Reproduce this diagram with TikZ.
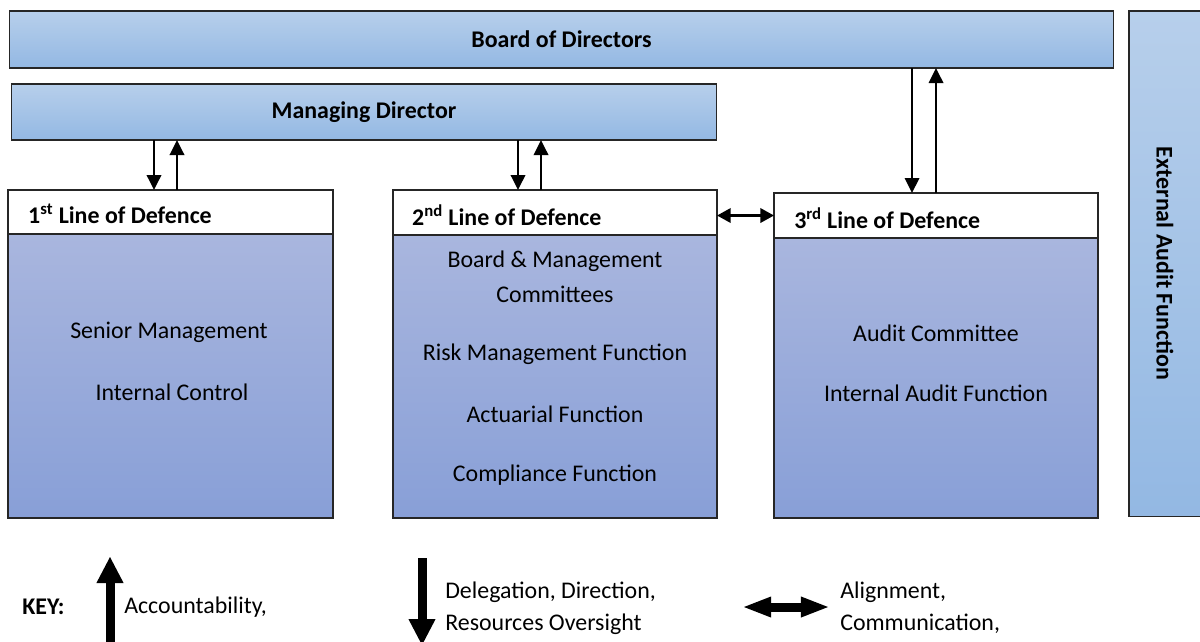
\documentclass[tikz,border=0pt]{standalone}
\usepackage{fontspec}
\setmainfont{Carlito}
\usetikzlibrary{arrows.meta,calc}
\definecolor{bdtop}{RGB}{183,207,235}
\definecolor{bdbot}{RGB}{147,184,227}
\definecolor{bytop}{RGB}{169,182,222}
\definecolor{bybot}{RGB}{136,159,215}
\tikzset{
  bluebox/.style={draw=black!85, line width=0.8pt, top color=bdtop, bottom color=bdbot, inner sep=0pt, outer sep=0pt, font=\fontsize{17}{20}\selectfont\bfseries},
  headbox/.style={draw=black!85, line width=0.8pt, fill=white, inner sep=0pt, outer sep=0pt},
  headtext/.style={anchor=west, inner sep=0pt, font=\fontsize{17}{20}\selectfont\bfseries},
  bodybox/.style={draw=black!85, line width=0.8pt, top color=bytop, bottom color=bybot, inner sep=0pt, outer sep=0pt},
  item/.style={font=\fontsize{17}{20}\selectfont, inner sep=0pt},
  arr/.style={line width=1.6pt, -{Triangle[length=0.375cm,width=0.36cm]}},
  darr/.style={line width=1.6pt, {Triangle[length=0.34cm,width=0.36cm]}-{Triangle[length=0.34cm,width=0.36cm]}},
  keyarr/.style={line width=0.225cm, -{Triangle[length=0.65cm,width=0.68cm,line width=0pt]}},
  keydarr/.style={line width=0.225cm, {Triangle[length=0.68cm,width=0.53cm,line width=0pt]}-{Triangle[length=0.68cm,width=0.53cm,line width=0pt]}},
}
\begin{document}
\begin{tikzpicture}[x=0.025cm,y=-0.025cm]
\useasboundingbox (0,0) rectangle (1200,641);
% top boxes
\node[bluebox, minimum width=27.575cm, minimum height=1.425cm] (bod) at (561.5,39.5) {Board of Directors};
\node[bluebox, minimum width=17.6cm, minimum height=1.4cm] (md) at (364,112) {Managing Director};
\node[bluebox, minimum width=1.8cm, minimum height=12.625cm] (ext) at (1165,263.5) {};
\node[font=\fontsize{17}{20}\selectfont\bfseries, rotate=-90, inner sep=0pt] (extt) at (ext.center) {External Audit Function};
% bodies
\node[bodybox, minimum width=8.125cm, minimum height=7.1cm] (b1) at (170.5,376) {};
\node[bodybox, minimum width=8.1cm, minimum height=7.075cm] (b2) at (555,376.5) {};
\node[bodybox, minimum width=8.1cm, minimum height=7cm] (b3) at (936,378) {};
% headers
\node[headbox, minimum width=8.125cm, minimum height=1.1cm] (h1) at (170.5,212) {};
\node[headbox, minimum width=8.1cm, minimum height=1.125cm] (h2) at (555,212.5) {};
\node[headbox, minimum width=8.1cm, minimum height=1.125cm] (h3) at (936,215.5) {};
\node[headtext] (h1t) at ($(h1.west)+(20,2)$) {1\textsuperscript{st} Line of Defence};
\node[headtext] (h2t) at ($(h2.west)+(19,3)$) {2\textsuperscript{nd} Line of Defence};
\node[headtext] (h3t) at ($(h3.west)+(20,2.5)$) {3\textsuperscript{rd} Line of Defence};
% body texts
\node[item] (t11) at (169,332) {Senior Management};
\node[item] (t12) at (172,392) {Internal Control};
\node[item] (t21) at (555,261) {Board \& Management};
\node[item] (t22) at (555,294) {Committees};
\node[item] (t23) at (555,354) {Risk Management Function};
\node[item] (t24) at (555,414) {Actuarial Function};
\node[item] (t25) at (555,475) {Compliance Function};
\node[item] (t31) at (936,333) {Audit Committee};
\node[item] (t32) at (936,393) {Internal Audit Function};
% connectors
\draw[arr] ($(h1.north |- md.south)+(-16.5,0)$) -- ($(h1.north)+(-16.5,0)$);
\draw[arr] ($(h1.north)+(6.5,0)$) -- ($(h1.north |- md.south)+(6.5,0)$);
\draw[arr] ($(h2.north |- md.south)+(-37,0)$) -- ($(h2.north)+(-37,0)$);
\draw[arr] ($(h2.north)+(-14,0)$) -- ($(h2.north |- md.south)+(-14,0)$);
\draw[arr] ($(h3.north |- bod.south)+(-24,0)$) -- ($(h3.north)+(-24,0)$);
\draw[arr] (h3.north) -- (h3.north |- bod.south);
\draw[darr] (h2.east |- h3.west) -- (h3.west);
% key
\node[item, font=\fontsize{17}{20}\selectfont\bfseries, anchor=west] (key) at (22,607) {KEY:};
\coordinate (ku1) at (110,645);
\coordinate (ku2) at (110,557);
\draw[keyarr] (ku1) -- (ku2);
\node[item, anchor=west] (k1) at (124,607) {Accountability,};
\coordinate (kd1) at (422,558);
\coordinate (kd2) at (422,645);
\draw[keyarr] (kd1) -- (kd2);
\node[item, anchor=west] (k2a) at (445,592) {Delegation, Direction,};
\node[item, anchor=west] (k2b) at (445,624) {Resources Oversight};
\coordinate (ka1) at (744,607);
\coordinate (ka2) at (828,607);
\draw[keydarr] (ka1) -- (ka2);
\node[item, anchor=west] (k3a) at (840,592) {Alignment,};
\node[item, anchor=west] (k3b) at (840,624) {Communication,};
\end{tikzpicture}
\end{document}
